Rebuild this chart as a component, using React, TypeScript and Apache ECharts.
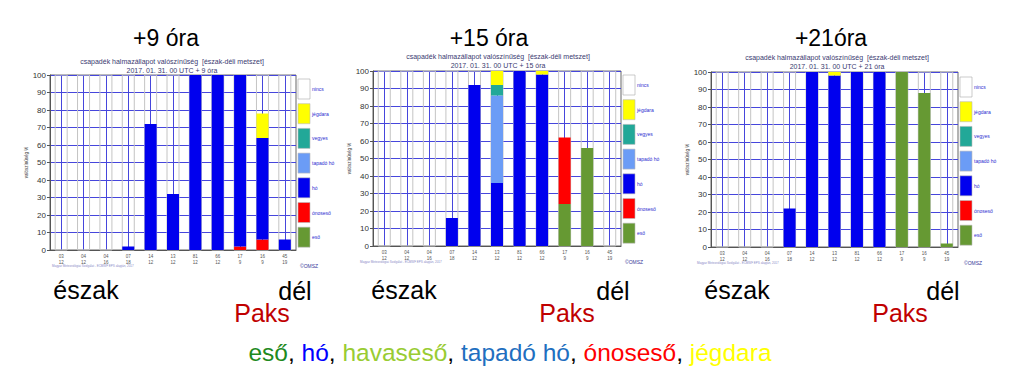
import React, { useEffect, useRef } from 'react';
import * as echarts from 'echarts';

// ---------- data ----------
const stations = ['s1', 's2', 's3', 's4', 's5', 's6', 's7', 's8', 's9', 's10', 's11'];
const xLabelTop = ['03', '04', '04', '07', '14', '13', '81', '66', '17', '16', '45'];
const xLabelBottom = ['12', '12', '16', '18', '12', '12', '12', '12', '9', '9', '19'];

const panelTitles = ['+9 óra', '+15 óra', '+21óra'];
const subtitleMain = 'csapadék halmazállapot valószínűség  [észak-déli metszet]';
const panelSubtitles = ['2017. 01. 31. 00 UTC + 9 óra', '2017. 01. 31. 00 UTC + 15 óra', '2017. 01. 31. 00 UTC + 21 óra'];

const yTicks = [0, 10, 20, 30, 40, 50, 60, 70, 80, 90, 100];

// stacking order bottom -> top
const typeNames = ['eső', 'ónoseső', 'hó', 'tapadó hó', 'vegyes', 'jégdara'];
const legendNames = ['nincs', 'jégdara', 'vegyes', 'tapadó hó', 'hó', 'ónoseső', 'eső'];

// +9 óra
const eso9 = [0, 0, 0, 0, 0, 0, 0, 0, 0, 0, 0];
const onoseso9 = [0, 0, 0, 0, 0, 0, 0, 0, 2, 6, 0];
const ho9 = [0, 0, 0, 2, 72, 32, 100, 100, 98, 58, 6];
const tapado9 = [0, 0, 0, 0, 0, 0, 0, 0, 0, 0, 0];
const vegyes9 = [0, 0, 0, 0, 0, 0, 0, 0, 0, 0, 0];
const jegdara9 = [0, 0, 0, 0, 0, 0, 0, 0, 0, 14, 0];

// +15 óra
const eso15 = [0, 0, 0, 0, 0, 0, 0, 0, 24, 56, 0];
const onoseso15 = [0, 0, 0, 0, 0, 0, 0, 0, 38, 0, 0];
const ho15 = [0, 0, 0, 16, 92, 36, 100, 98, 0, 0, 0];
const tapado15 = [0, 0, 0, 0, 0, 50, 0, 0, 0, 0, 0];
const vegyes15 = [0, 0, 0, 0, 0, 6, 0, 0, 0, 0, 0];
const jegdara15 = [0, 0, 0, 0, 0, 8, 0, 2, 0, 0, 0];

// +21 óra
const eso21 = [0, 0, 0, 0, 0, 0, 0, 0, 100, 88, 2];
const onoseso21 = [0, 0, 0, 0, 0, 0, 0, 0, 0, 0, 0];
const ho21 = [0, 0, 0, 22, 100, 98, 100, 100, 0, 0, 0];
const tapado21 = [0, 0, 0, 0, 0, 0, 0, 0, 0, 0, 0];
const vegyes21 = [0, 0, 0, 0, 0, 0, 0, 0, 0, 0, 0];
const jegdara21 = [0, 0, 0, 0, 0, 2, 0, 0, 0, 0, 0];

const panelData = [
  [eso9, onoseso9, ho9, tapado9, vegyes9, jegdara9],
  [eso15, onoseso15, ho15, tapado15, vegyes15, jegdara15],
  [eso21, onoseso21, ho21, tapado21, vegyes21, jegdara21],
];

// ---------- styles ----------
const FONT = '"Liberation Sans", Arial, sans-serif';
const typeColors: Record<string, string> = {
  'nincs': '#ffffff',
  'jégdara': '#ffff00',
  'vegyes': '#22a898',
  'tapadó hó': '#6b9cf6',
  'hó': '#0000ee',
  'ónoseső': '#ff0000',
  'eső': '#669933',
};

const panels = [
  { left: 50, top: 75, width: 246, height: 175, titleX: 166, titleY: 38, subX: 172, subY1: 61, subY2: 70, legX: 298, legY: 79, footY: 266, footX: 52, logoX: 300, north: 86, south: 295, paks: 262 },
  { left: 373, top: 71, width: 248, height: 175, titleX: 489, titleY: 38, subX: 498, subY1: 56, subY2: 65, legX: 623, legY: 75, footY: 262, footX: 360, logoX: 625, north: 404, south: 613, paks: 567 },
  { left: 711, top: 72, width: 247, height: 175, titleX: 831, titleY: 38, subX: 837, subY1: 57, subY2: 66, legX: 960, legY: 77, footY: 263, footX: 697, logoX: 964, north: 737, south: 943, paks: 900 },
];

function txt(x: number, y: number, text: string, size: number, fill: string, align = 'center', vAlign = 'middle', extra: any = {}) {
  return {
    type: 'text',
    x,
    y,
    silent: true,
    style: {
      text,
      fontSize: size,
      fontFamily: FONT,
      fill,
      align,
      textAlign: align,
      verticalAlign: vAlign,
      textVerticalAlign: vAlign,
      ...extra,
    },
  };
}

export default function App() {
  const ref = useRef<HTMLDivElement>(null);

  useEffect(() => {
    if (!ref.current) return;
    const chart = echarts.init(ref.current, undefined, { renderer: 'svg' });

    const grid: any[] = [];
    const xAxis: any[] = [];
    const yAxis: any[] = [];
    const series: any[] = [];
    const graphic: any[] = [];

    panels.forEach((p, pi) => {
      grid.push({
        left: p.left,
        top: p.top,
        width: p.width,
        height: p.height,
        show: true,
        borderColor: '#666',
        borderWidth: 1,
        backgroundColor: '#fff',
        containLabel: false,
      });
      xAxis.push({
        type: 'category',
        gridIndex: pi,
        data: stations,
        axisLine: { lineStyle: { color: '#555' } },
        axisTick: { show: false },
        axisLabel: {
          fontSize: 4.5,
          lineHeight: 6,
          color: '#555',
          margin: 3,
          interval: 0,
          formatter: (_v: string, i: number) => xLabelTop[i] + '\n' + xLabelBottom[i],
        },
        splitLine: { show: false },
      });
      yAxis.push({
        type: 'value',
        gridIndex: pi,
        min: 0,
        max: 100,
        interval: 10,
        name: 'valószínűség %',
        nameLocation: 'middle',
        nameGap: 13,
        nameRotate: 90,
        nameTextStyle: { fontSize: 4.5, color: '#333', fontFamily: FONT },
        axisLine: { show: true, lineStyle: { color: '#555' } },
        axisTick: { show: true, length: 3, lineStyle: { color: '#555' } },
        axisLabel: {
          fontSize: 8,
          color: '#333',
          margin: 4,
          fontFamily: FONT,
          formatter: (v: number) => (yTicks.includes(v) ? String(v) : ''),
        },
        splitLine: { show: true, lineStyle: { color: '#4646dc', width: 1 } },
      });

      panelData[pi].forEach((vals, ti) => {
        const name = typeNames[ti];
        const s: any = {
          type: 'bar',
          name,
          xAxisIndex: pi,
          yAxisIndex: pi,
          stack: 'p' + pi,
          data: vals,
          barWidth: 12,
          itemStyle: { color: typeColors[name] },
          z: 3,
        };
        if (ti === 0) {
          s.showBackground = true;
          s.backgroundStyle = { color: 'rgba(0,0,0,0)', borderColor: '#c4c4c4', borderWidth: 1 };
        }
        series.push(s);
      });

      // titles
      graphic.push(txt(p.titleX, p.titleY, panelTitles[pi], 23, '#000'));
      graphic.push(txt(p.subX, p.subY1, subtitleMain, 7, '#3a3a70'));
      graphic.push(txt(p.subX, p.subY2, panelSubtitles[pi], 7, '#3a3a70'));

      // legend boxes
      legendNames.forEach((ln, li) => {
        const y = p.legY + li * 24.7;
        graphic.push({
          type: 'rect',
          silent: true,
          shape: { x: p.legX, y, width: 12, height: 20 },
          style: { fill: typeColors[ln], stroke: ln === 'nincs' ? '#aaa' : '#bbb', lineWidth: 0.6 },
        });
        graphic.push(txt(p.legX + 14, y + 10, ln, 5, '#2b2bd0', 'left'));
      });

      // footer
      graphic.push(txt(p.footX, p.footY, 'Magyar Meteorológiai Szolgálat - ECMWF EPS alapján, 2017', 3, '#8a8ac8', 'left'));
      graphic.push(txt(p.logoX, p.footY, '©OMSZ', 5, '#3a3a9a', 'left'));

      // annotations
      graphic.push(txt(p.north, 290, 'észak', 25, '#000'));
      graphic.push(txt(p.south, 291, 'dél', 25, '#000'));
      graphic.push(txt(p.paks, 313, 'Paks', 25, '#c00000'));
    });

    // vertical blue centre lines: hidden value axes, lines at odd positions
    panels.forEach((_p, pi) => {
      xAxis.push({
        type: 'value',
        gridIndex: pi,
        min: 0,
        max: 22,
        interval: 1,
        axisLine: { show: false },
        axisTick: { show: false },
        axisLabel: { show: false },
        splitLine: { show: true, lineStyle: { color: ['rgba(0,0,0,0)', '#4646dc'], width: 1 } },
      });
    });

    const rs = { fontSize: 24.5, fontFamily: FONT };
    graphic.push({
      type: 'text',
      x: 510,
      y: 352,
      silent: true,
      style: {
        text: '{g|eső}{k|, }{b|hó}{k|, }{l|havaseső}{k|, }{t|tapadó hó}{k|, }{r|ónoseső}{k|, }{y|jégdara}',
        fontSize: 24.5,
        fontFamily: FONT,
        align: 'center',
        textAlign: 'center',
        verticalAlign: 'middle',
        textVerticalAlign: 'middle',
        rich: {
          g: { ...rs, fill: '#1e8a1e' },
          b: { ...rs, fill: '#0000ff' },
          l: { ...rs, fill: '#99cc33' },
          t: { ...rs, fill: '#1f6fc0' },
          r: { ...rs, fill: '#ff0000' },
          y: { ...rs, fill: '#ffff00' },
          k: { ...rs, fill: '#000000' },
        },
      },
    });

    chart.setOption({
      animation: false,
      backgroundColor: '#fff',
      textStyle: { fontFamily: FONT },
      grid,
      xAxis,
      yAxis,
      series,
      graphic,
    });

    return () => chart.dispose();
  }, []);

  return (
    <div
      ref={ref}
      style={{ position: 'fixed', left: 0, top: 0, width: 1023, height: 374, background: '#fff' }}
    />
  );
}
